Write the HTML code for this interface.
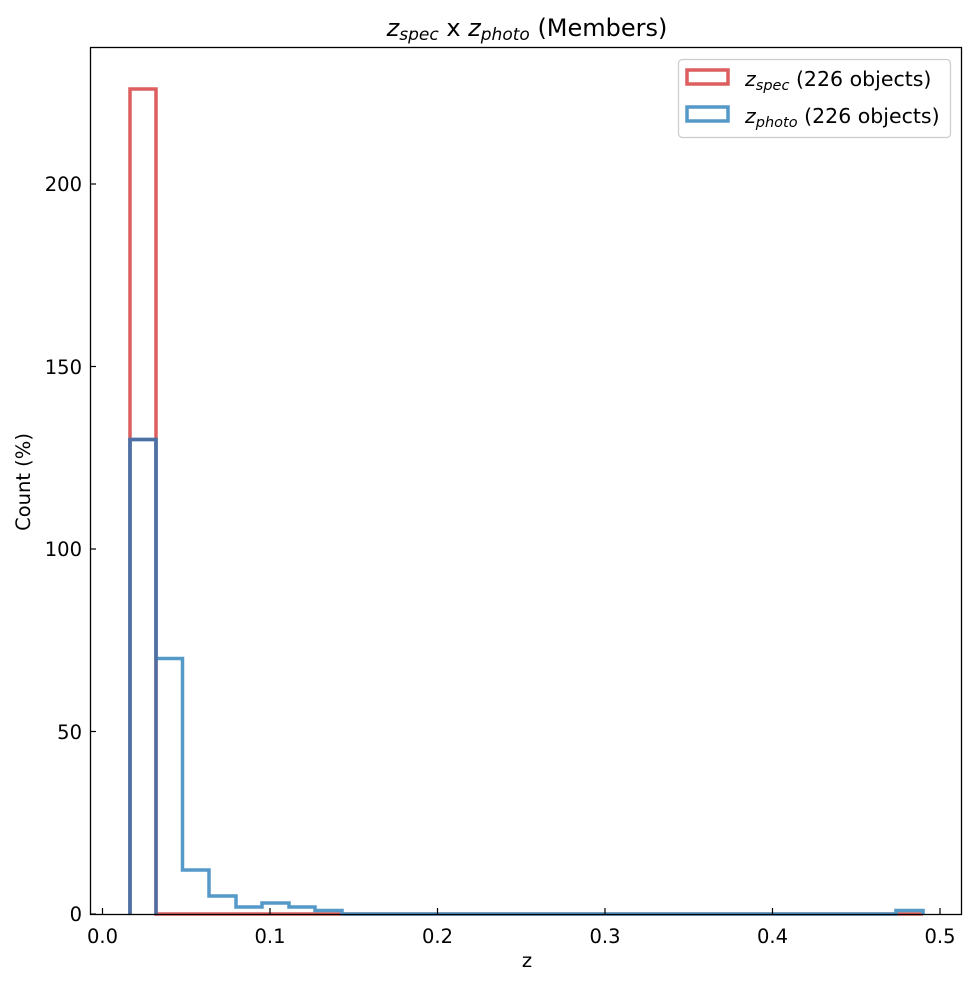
<!DOCTYPE html><html><head><style>body{margin:0;background:#fff}svg{display:block}text{font-family:"DejaVu Sans","Liberation Sans",sans-serif;fill:#000}</style></head><body>
<svg width="977" height="985" xmlns="http://www.w3.org/2000/svg">
<rect width="977" height="985" fill="#fff"/>
<path d="M130,914 V89 H156 V914 H923" fill="none" stroke="#dc5e5e" stroke-width="3.5"/>
<path d="M130,914 V439.5 H156 V658.5 H182.5 V870 H209 V896 H236 V907 H262 V903 H289 V907 H315 V910.5 H342 V914 H896 V910.5 H923 V914" fill="none" stroke="#5599c8" stroke-width="3.5"/>
<path d="M130,914 V439.5 H156 V914" fill="none" stroke="#4d6fa3" stroke-width="3.5"/>
<rect x="90.5" y="47.5" width="871" height="867" fill="none" stroke="#000" stroke-width="1.3"/>
<g stroke="#000" stroke-width="1.2">
<line x1="102.5" y1="914" x2="102.5" y2="908"/><line x1="270" y1="914" x2="270" y2="908"/><line x1="437.5" y1="914" x2="437.5" y2="908"/><line x1="605" y1="914" x2="605" y2="908"/><line x1="772.5" y1="914" x2="772.5" y2="908"/><line x1="940" y1="914" x2="940" y2="908"/>
<line x1="90" y1="914" x2="96" y2="914"/><line x1="90" y1="731.5" x2="96" y2="731.5"/><line x1="90" y1="549" x2="96" y2="549"/><line x1="90" y1="366.5" x2="96" y2="366.5"/><line x1="90" y1="184" x2="96" y2="184"/>
</g>
<g font-size="19.5" text-anchor="middle">
<text x="102.5" y="943">0.0</text><text x="270" y="943">0.1</text><text x="437.5" y="943">0.2</text><text x="605" y="943">0.3</text><text x="772.5" y="943">0.4</text><text x="940" y="943">0.5</text>
<text x="527" y="967">z</text>
</g>
<g font-size="19.5" text-anchor="end">
<text x="82" y="921">0</text><text x="82" y="739">50</text><text x="82" y="556">100</text><text x="82" y="374">150</text><text x="82" y="191">200</text>
</g>
<text x="30" y="482" font-size="19.5" text-anchor="middle" transform="rotate(-90 30 482)">Count (%)</text>
<text x="527" y="36" font-size="24" text-anchor="middle"><tspan font-style="italic">z</tspan><tspan font-style="italic" font-size="17" dy="4">spec</tspan><tspan dy="-4"> x </tspan><tspan font-style="italic">z</tspan><tspan font-style="italic" font-size="17" dy="4">photo</tspan><tspan dy="-4"> (Members)</tspan></text>
<rect x="678.5" y="59.5" width="272" height="78" rx="4" fill="#fff" stroke="#ccc" stroke-width="1.2"/>
<rect x="687" y="70" width="41" height="14" fill="none" stroke="#dc5e5e" stroke-width="3.5"/>
<rect x="687" y="107" width="41" height="14" fill="none" stroke="#5599c8" stroke-width="3.5"/>
<text x="745" y="86" font-size="20.5"><tspan font-style="italic">z</tspan><tspan font-style="italic" font-size="14.5" dy="4">spec</tspan><tspan dy="-4"> (226 objects)</tspan></text>
<text x="745" y="123" font-size="20.5"><tspan font-style="italic">z</tspan><tspan font-style="italic" font-size="14.5" dy="4">photo</tspan><tspan dy="-4"> (226 objects)</tspan></text>
</svg>
</body></html>
